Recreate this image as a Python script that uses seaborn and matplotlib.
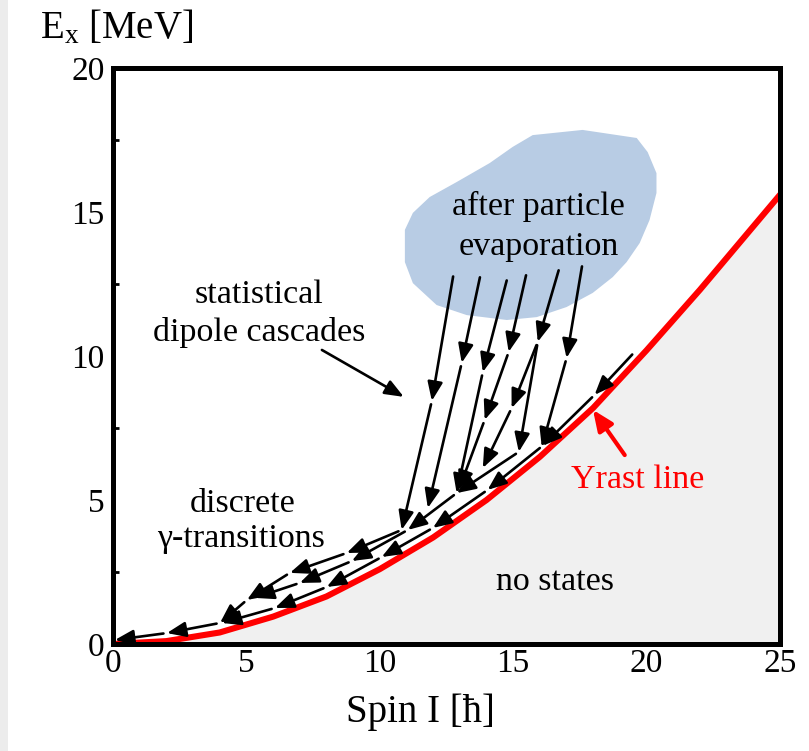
import matplotlib
matplotlib.use("Agg")
import matplotlib.pyplot as plt
import seaborn as sns
import pandas as pd
from matplotlib.patches import Rectangle
from matplotlib.ticker import MultipleLocator

# ---------------- data ----------------
spin = [0, 2, 4, 6, 8, 10, 12, 14, 16, 18, 20, 22, 24, 25]
yrast_e = [0.0, 0.1, 0.4, 0.95, 1.65, 2.6, 3.7, 5.0, 6.5, 8.2, 10.2, 12.3, 14.5, 15.6]

x_ticks = [0, 5, 10, 15, 20, 25]
y_ticks = [0, 5, 10, 15, 20]

cloud_x = [15.73, 17.60, 19.63, 20.04, 20.37, 20.37, 20.11, 19.74, 19.25, 18.73,
           17.98, 17.00, 15.88, 14.76, 13.26, 12.13, 11.24, 10.94, 10.94, 11.24,
           11.87, 12.88, 14.12, 14.98]
cloud_y = [17.67, 17.85, 17.57, 17.08, 16.35, 15.66, 14.72, 13.92, 13.26, 12.74,
           12.19, 11.70, 11.35, 11.25, 11.42, 11.77, 12.53, 13.26, 14.38, 14.97,
           15.52, 16.04, 16.70, 17.26]

# cascades (each list: successive states, arrow drawn between consecutive ones)
casc1_x = [12.77, 11.95, 10.82, 8.76, 6.63, 5.02, 4.01, 2.02, 0.07]
casc1_y = [12.88, 8.44, 3.96, 3.16, 2.47, 1.53, 0.73, 0.38, 0.14]
casc2_x = [13.78, 13.07, 11.80]
casc2_y = [12.85, 9.76, 4.72]
casc3_x = [14.79, 13.86, 12.88]
casc3_y = [12.74, 9.44, 5.24]
casc4_x = [15.51, 14.83, 13.93, 12.96]
casc4_y = [12.92, 10.14, 7.78, 5.35]
casc5_x = [16.74, 15.92, 14.94, 13.86]
casc5_y = [13.09, 10.49, 8.19, 6.11]
casc5b_x = [15.92, 15.21, 12.88]
casc5b_y = [10.49, 6.67, 5.24]
casc6_x = [17.60, 17.00, 16.07]
casc6_y = [13.23, 9.93, 6.84]
band_mid_x = [12.88, 11.05, 8.95, 7.00, 5.32]
band_mid_y = [5.24, 3.96, 2.88, 2.12, 1.60]
band_low_x = [19.55, 18.05, 16.10, 14.04, 11.99, 10.07, 8.01, 6.07, 4.08]
band_low_y = [10.14, 8.65, 6.88, 5.35, 4.03, 3.02, 1.98, 1.25, 0.73]

stat_arrow_x = [7.83, 10.90]
stat_arrow_y = [10.21, 8.58]
yrast_arrow_x = [19.18, 17.99]
yrast_arrow_y = [6.56, 8.13]

# ---------------- style ----------------
sns.set_theme(style="white")
plt.rcParams["font.family"] = ["Liberation Serif", "DejaVu Serif"]
plt.rcParams["text.color"] = "black"
plt.rcParams["axes.labelcolor"] = "black"
plt.rcParams["xtick.color"] = "black"
plt.rcParams["ytick.color"] = "black"
plt.rcParams["mathtext.fontset"] = "custom"
plt.rcParams["mathtext.rm"] = "Liberation Serif"
plt.rcParams["mathtext.it"] = "Liberation Serif:italic"
plt.rcParams["mathtext.default"] = "regular"

W, H = 809, 751
fig = plt.figure(figsize=(W / 100, H / 100), dpi=100)
fig.patch.set_facecolor("white")
fig.patches.append(Rectangle((0, 0), 8 / W, 1, transform=fig.transFigure,
                             facecolor="#ececec", edgecolor="none", zorder=0))

ax = fig.add_axes([113 / W, (H - 644) / H, (780 - 113) / W, (644 - 68) / H])
ax.set_facecolor("white")

# no-states region and yrast line
ax.fill_between(spin, yrast_e, 0, color="#f0f0f0", lw=0, zorder=1)
df = pd.DataFrame({"spin": spin, "E": yrast_e})
sns.lineplot(data=df, x="spin", y="E", ax=ax, color="#ff0000", lw=4.4,
             zorder=3, estimator=None, sort=False)

# particle evaporation cloud
ax.fill(cloud_x, cloud_y, color="#b8cce4", lw=0, zorder=1)

head = "-|>,head_length=0.6,head_width=0.24"
arrow_kw = dict(arrowstyle=head, mutation_scale=19, lw=1.9, color="black",
                shrinkA=2.5, shrinkB=0)


def draw_chain(xs, ys):
    for i in range(len(xs) - 1):
        ax.annotate("", xy=(xs[i + 1], ys[i + 1]), xytext=(xs[i], ys[i]),
                    xycoords="data", textcoords="data",
                    arrowprops=arrow_kw, zorder=4)


for cx, cy in [(casc1_x, casc1_y), (casc2_x, casc2_y), (casc3_x, casc3_y),
               (casc4_x, casc4_y), (casc5_x, casc5_y), (casc5b_x, casc5b_y),
               (casc6_x, casc6_y), (band_mid_x, band_mid_y),
               (band_low_x, band_low_y)]:
    draw_chain(cx, cy)

ax.annotate("", xy=(stat_arrow_x[1], stat_arrow_y[1]),
            xytext=(stat_arrow_x[0], stat_arrow_y[0]),
            arrowprops=dict(arrowstyle=head, mutation_scale=19, lw=1.9,
                            color="black", shrinkA=0, shrinkB=0), zorder=4)
ax.annotate("", xy=(yrast_arrow_x[1], yrast_arrow_y[1]),
            xytext=(yrast_arrow_x[0], yrast_arrow_y[0]),
            arrowprops=dict(arrowstyle="-|>,head_length=0.65,head_width=0.28",
                            mutation_scale=19, lw=3.0, color="#ff0000",
                            shrinkA=0, shrinkB=0), zorder=5)

fs = 24.5
ax.text(5.47, 11.84, "statistical", ha="center", va="baseline", fontsize=fs, color="black", zorder=6)
ax.text(5.47, 10.52, "dipole cascades", ha="center", va="baseline", fontsize=fs, color="black", zorder=6)
ax.text(15.96, 14.90, "after particle", ha="center", va="baseline", fontsize=fs, color="black", zorder=6)
ax.text(15.96, 13.51, "evaporation", ha="center", va="baseline", fontsize=fs, color="black", zorder=6)
ax.text(4.87, 4.58, "discrete", ha="center", va="baseline", fontsize=fs, color="black", zorder=6)
ax.text(4.79, 3.37, "γ-transitions", ha="center", va="baseline", fontsize=fs, color="black", zorder=6)
ax.text(16.55, 1.875, "no states", ha="center", va="baseline", fontsize=fs, color="black", zorder=6)
ax.text(19.66, 5.42, "Yrast line", ha="center", va="baseline", fontsize=fs,
        color="#ff0000", zorder=6)

# axes
ax.set_xlim(0, 25)
ax.set_ylim(0, 20)
ax.set_xticks(x_ticks)
ax.set_yticks(y_ticks)
ax.set_xticklabels([str(v) for v in x_ticks])
ax.set_yticklabels([str(v) for v in y_ticks])
ax.yaxis.set_minor_locator(MultipleLocator(2.5))
ax.set_xlabel("")
ax.set_ylabel("")
ax.tick_params(axis="both", which="major", direction="in", length=6, width=3,
               labelsize=24, color="black", labelcolor="black")
ax.tick_params(axis="x", which="major", pad=3)
ax.tick_params(axis="y", which="major", pad=6)
ax.tick_params(axis="y", which="minor", direction="in", length=4, width=2,
               color="black", left=True)
for sp in ax.spines.values():
    sp.set_visible(True)
    sp.set_linewidth(3.6)
    sp.set_color("black")
    sp.set_zorder(7)

fig.text(40 / W, (H - 38) / H, r"E$_{x}$ [MeV]", ha="left", va="baseline",
         fontsize=28, color="black")
fig.text(420 / W, (H - 722) / H, "Spin I [ħ]", ha="center", va="baseline",
         fontsize=28, color="black")

fig.savefig("out.png", dpi=100, facecolor=fig.get_facecolor())
